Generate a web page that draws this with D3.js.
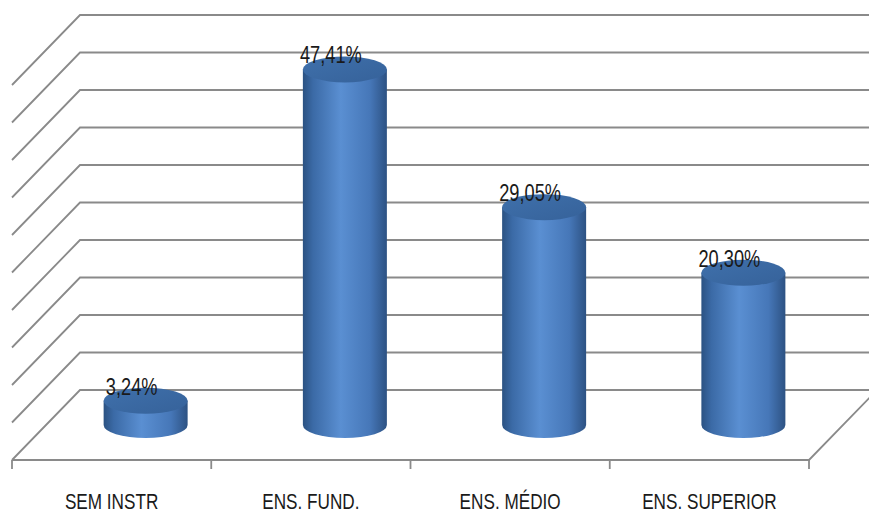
<!DOCTYPE html>
<html>
<head>
<meta charset="utf-8">
<script src="https://cdn.jsdelivr.net/npm/d3@7/dist/d3.min.js"></script>
<style>
  body { margin: 0; background: #fff; }
  text { font-family: "Liberation Sans", Arial, sans-serif; fill: #1a1a1a; }
</style>
</head>
<body>
<div id="chart"></div>
<script>
// chart data
var categories = ["SEM INSTR", "ENS. FUND.", "ENS. MÉDIO", "ENS. SUPERIOR"];
var values = [3.24, 47.41, 29.05, 20.30];
var valueLabels = ["3,24%", "47,41%", "29,05%", "20,30%"];
var gridTicks = [0, 5, 10, 15, 20, 25, 30, 35, 40, 45, 50];

var width = 869, height = 514;

// depth of the 3d box: back wall -> front edge
var depth = {x: -68, y: 70};

var svg = d3.select("#chart").append("svg")
    .attr("width", width)
    .attr("height", height);

var defs = svg.append("defs");

var sideGrad = defs.append("linearGradient")
    .attr("id", "side").attr("x1", "0").attr("x2", "1").attr("y1", "0").attr("y2", "0");
sideGrad.append("stop").attr("offset", "0%").attr("stop-color", "#2b5282");
sideGrad.append("stop").attr("offset", "12%").attr("stop-color", "#3b6aa6");
sideGrad.append("stop").attr("offset", "45%").attr("stop-color", "#5a8fd2");
sideGrad.append("stop").attr("offset", "80%").attr("stop-color", "#4677b8");
sideGrad.append("stop").attr("offset", "100%").attr("stop-color", "#2d5283");

var topGrad = defs.append("linearGradient")
    .attr("id", "top").attr("x1", "0").attr("x2", "1").attr("y1", "0").attr("y2", "1");
topGrad.append("stop").attr("offset", "0%").attr("stop-color", "#3f70ab");
topGrad.append("stop").attr("offset", "100%").attr("stop-color", "#36629a");

// scales on the back wall
var xScale = d3.scaleBand()
    .domain(categories)
    .range([80, 877]);

var yScale = d3.scaleLinear()
    .domain([0, 50])
    .range([390, 15]);

// gridlines: side wall diagonal + back wall horizontal
svg.append("g").selectAll("path.grid")
    .data(gridTicks)
  .enter().append("path")
    .attr("class", "grid")
    .attr("fill", "none")
    .attr("stroke", "#8a8a8a")
    .attr("stroke-width", 1.8)
    .attr("d", function(d) {
      var y = yScale(d);
      return "M" + (80 + depth.x) + "," + (y + depth.y) + "L80," + y + "L877," + y;
    });

// floor front edge and right edge
var x0 = xScale.range()[0] + depth.x,
    x1 = xScale.range()[1] + depth.x,
    yf = yScale(0) + depth.y;
svg.append("path")
    .attr("fill", "none")
    .attr("stroke", "#8a8a8a")
    .attr("stroke-width", 1.8)
    .attr("d", "M" + x0 + "," + yf + "L" + x1 + "," + yf + "L" + xScale.range()[1] + "," + yScale(0));

// tick marks on front edge
var tickX = categories.map(function(c) { return xScale(c) + depth.x; }).concat([x1]);
svg.append("g").selectAll("line")
    .data(tickX)
  .enter().append("line")
    .attr("x1", function(d) { return d; })
    .attr("x2", function(d) { return d; })
    .attr("y1", yf)
    .attr("y2", yf + 9)
    .attr("stroke", "#8a8a8a")
    .attr("stroke-width", 1.8);

// cylinders sit at half depth
var rx = 42, ry = 13;
function cx(i) { return xScale(categories[i]) + xScale.bandwidth() / 2 + depth.x / 2; }
function topY(v) { return yScale(v) + depth.y / 2; }
var baseY = yScale(0) + depth.y / 2;

var bars = svg.append("g").selectAll("g.bar")
    .data(values)
  .enter().append("g")
    .attr("class", "bar");

bars.append("path")
    .attr("fill", "url(#side)")
    .attr("d", function(d, i) {
      var c = cx(i), t = topY(d);
      return "M" + (c - rx) + "," + t + "L" + (c - rx) + "," + baseY +
        "A" + rx + "," + ry + " 0 0 0 " + (c + rx) + "," + baseY +
        "L" + (c + rx) + "," + t + "Z";
    });

bars.append("ellipse")
    .attr("cx", function(d, i) { return cx(i); })
    .attr("cy", function(d) { return topY(d); })
    .attr("rx", rx)
    .attr("ry", ry)
    .attr("fill", "url(#top)");

// value labels (squeezed to look like a narrow font)
bars.append("text")
    .attr("transform", function(d, i) {
      return "translate(" + (cx(i) - 14) + "," + (topY(d) - 6) + ") scale(0.76,1)";
    })
    .attr("text-anchor", "middle")
    .attr("font-size", 24)
    .text(function(d, i) { return valueLabels[i]; });

// category labels
svg.append("g").selectAll("text")
    .data(categories)
  .enter().append("text")
    .attr("transform", function(d) {
      return "translate(" + (xScale(d) + xScale.bandwidth() / 2 + depth.x) + ",509) scale(0.78,1)";
    })
    .attr("text-anchor", "middle")
    .attr("font-size", 22)
    .text(function(d) { return d; });
</script>
</body>
</html>
